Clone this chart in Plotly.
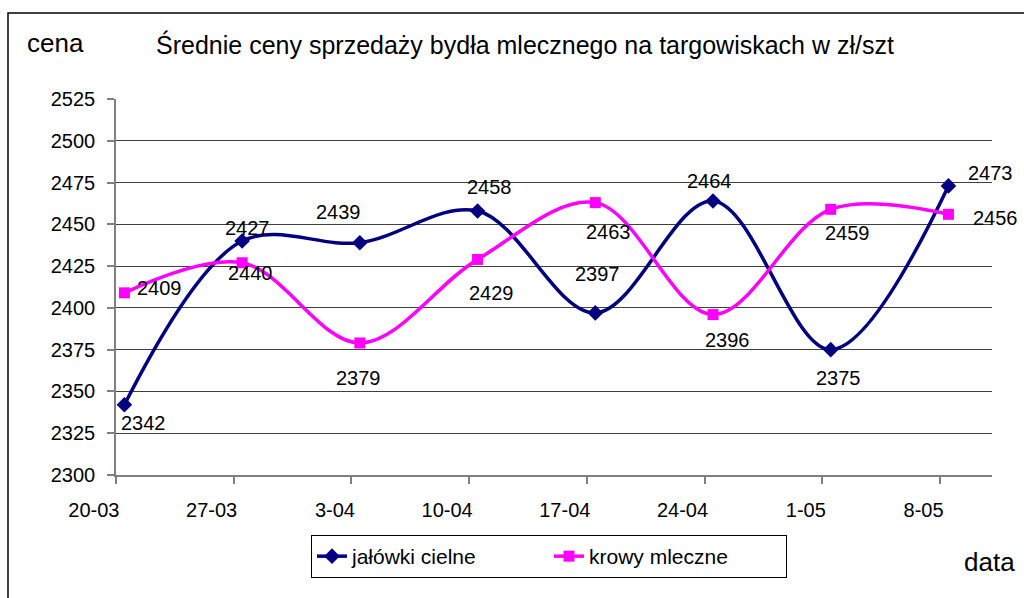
import plotly.graph_objects as go

dates = ["20-03", "27-03", "3-04", "10-04", "17-04", "24-04", "1-05", "8-05"]
jalowki = [2342, 2440, 2439, 2458, 2397, 2464, 2375, 2473]
krowy = [2409, 2427, 2379, 2429, 2463, 2396, 2459, 2456]
y_ticks = [2300, 2325, 2350, 2375, 2400, 2425, 2450, 2475, 2500, 2525]

# label offsets (px): (dx, dy) with dy positive = downwards
jal_off = [(19, 18), (8, 32), (-21, -31), (12, -24), (2, -39), (-4, -20), (8, 28), (42, -13)]
kro_off = [(35, -5), (5, -35), (-1, 35), (14, 34), (13, 29), (14, 25), (17, 24), (47, 4)]

FONT = "Liberation Sans, Arial, sans-serif"
NAVY = "#000080"
MAG = "#FF00FF"

# weekly date axis: each point sits in the middle of its day
tick_x = [7 * i for i in range(len(dates))]
pt_x = [t + 0.5 for t in tick_x]

fig = go.Figure()
fig.add_trace(go.Scatter(
    x=pt_x, y=jalowki, name="jałówki cielne", mode="lines+markers",
    line=dict(color=NAVY, width=3.5, shape="spline", smoothing=1.0),
    marker=dict(symbol="diamond", size=12, color=NAVY),
))
fig.add_trace(go.Scatter(
    x=pt_x, y=krowy, name="krowy mleczne", mode="lines+markers",
    line=dict(color=MAG, width=3.5, shape="spline", smoothing=1.0),
    marker=dict(symbol="square", size=11, color=MAG),
))

annots = []
for xs, vals, offs in ((pt_x, jalowki, jal_off), (pt_x, krowy, kro_off)):
    for xv, v, (dx, dy) in zip(xs, vals, offs):
        annots.append(dict(x=xv, y=v, xref="x", yref="y", text=str(v), showarrow=False,
                           xanchor="center", yanchor="middle",
                           xshift=dx, yshift=-dy, font=dict(family=FONT, size=20, color="black")))

annots.append(dict(x=-0.0685, y=1.149, xref="paper", yref="paper", text="cena", showarrow=False,
                   xanchor="center", yanchor="middle",
                   font=dict(family=FONT, size=26, color="black")))
annots.append(dict(x=0.9977, y=-0.2314, xref="paper", yref="paper", text="data", showarrow=False,
                   xanchor="center", yanchor="middle",
                   font=dict(family=FONT, size=26, color="black")))

fig.update_layout(
    width=1024, height=598,
    margin=dict(l=116, r=32, t=99, b=123),
    paper_bgcolor="white", plot_bgcolor="white",
    font=dict(family=FONT, size=20, color="black"),
    title=dict(text="Średnie ceny sprzedaży bydła mlecznego na targowiskach w zł/szt",
               x=0.5127, xanchor="center", y=1 - 45 / 598, yanchor="middle",
               font=dict(family=FONT, size=25, color="black")),
    showlegend=True,
    legend=dict(orientation="h", x=0.2226, xanchor="left", y=-0.1596, yanchor="top",
                bordercolor="black", borderwidth=1, bgcolor="white",
                entrywidth=192, entrywidthmode="pixels",
                font=dict(family=FONT, size=21, color="black")),
    annotations=annots,
    shapes=[dict(type="rect", xref="paper", yref="paper",
                 x0=-0.1233, x1=1.06, y0=-0.35, y1=1.2287,
                 line=dict(color="black", width=1.5), fillcolor="rgba(0,0,0,0)", layer="below")],
)

fig.update_xaxes(
    range=[0, 52.09], tickmode="array", tickvals=tick_x, ticktext=dates,
    showgrid=False, zeroline=False, showline=True, linecolor="#808080", linewidth=1.5,
    ticks="outside", ticklen=7, tickcolor="#808080", tickwidth=1.5,
    ticklabelposition="outside left", ticklabelshift=5, ticklabelstandoff=16,
    tickfont=dict(family=FONT, size=20, color="black"),
)
fig.update_yaxes(
    range=[2300, 2525], tickmode="array", tickvals=y_ticks,
    showgrid=True, gridcolor="#404040", gridwidth=1, zeroline=False,
    showline=True, linecolor="#808080", linewidth=1.5,
    ticks="outside", ticklen=7, tickcolor="#808080", tickwidth=1.5,
    ticklabelstandoff=8,
    tickfont=dict(family=FONT, size=20, color="black"),
)

fig.write_html("out.html", config={"displayModeBar": False},
               post_script="document.body.style.margin='0';")
